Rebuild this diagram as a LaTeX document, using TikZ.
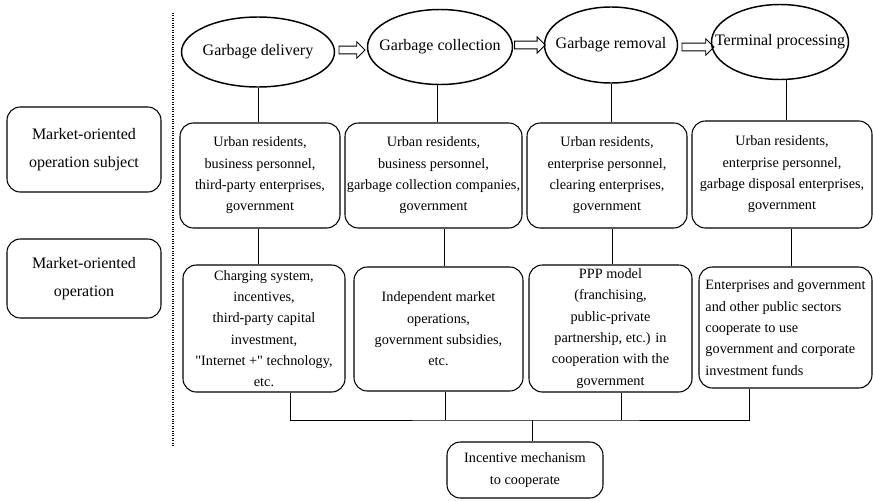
\documentclass[tikz,border=0pt]{standalone}
\usepackage{fontspec}
\setmainfont{Liberation Serif}
\usetikzlibrary{shapes.geometric,shapes.arrows}
\tikzset{
    stage-ellipse/.style = {draw, ellipse, line width=1.1pt, inner sep=0pt, font=\fontsize{12}{14}\selectfont},
    side-box/.style = {draw, rectangle, rounded corners=10pt, line width=0.8pt, align=center, minimum width=115.5pt, font=\fontsize{12}{21}\selectfont},
    info-box/.style = {draw, rectangle, rounded corners=10pt, line width=0.8pt, align=center, inner sep=1pt, font=\fontsize{10.7}{16}\selectfont},
    flow-arrow/.style = {draw, single arrow, line width=0.6pt, inner xsep=0pt, inner ysep=2.6pt, single arrow head extend=3.2pt},
    link/.style = {line width=0.7pt},
}

\begin{document}
\begin{tikzpicture}[x=0.75pt, y=-0.75pt]
\useasboundingbox (0,0) rectangle (873,500);
\draw[densely dotted, line width=0.8pt] (173,13) -- (173,447);

\node[side-box, minimum height=63.75pt] (subject) at (84,149.5) {Market-oriented\\operation subject};
\node[side-box, minimum height=59.25pt] (operation) at (84,278.5) {Market-oriented\\operation};

\node[stage-ellipse, minimum width=114.75pt, minimum height=52.5pt] (delivery) at (258,52) {\makebox[0pt]{Garbage delivery}};
\node[stage-ellipse, minimum width=108.75pt, minimum height=56.25pt] (collection) at (440,47) {\makebox[0pt]{Garbage collection}};
\node[stage-ellipse, minimum width=99.75pt, minimum height=57pt] (removal) at (611,45) {\makebox[0pt]{Garbage removal}};
\node[stage-ellipse, minimum width=102.75pt, minimum height=56.25pt] (processing) at (780,42) {\makebox[0pt]{Terminal processing}};

\node[flow-arrow, minimum height=19.5pt] (arrow-1) at (350,50) {};
\node[flow-arrow, minimum height=23pt] (arrow-2) at (528,45) {};
\node[flow-arrow, minimum height=24pt] (arrow-3) at (696,47) {};

\node[info-box, minimum width=120pt, minimum height=78.75pt] (subject-1) at (260,175.5) {Urban residents,\\business personnel,\\third-party enterprises,\\government};
\node[info-box, minimum width=132.75pt, minimum height=78.75pt] (subject-2) at (433.5,175.5) {Urban residents,\\business personnel,\\garbage collection companies,\\government};
\node[info-box, minimum width=120pt, minimum height=78.75pt] (subject-3) at (607,175.5) {Urban residents,\\enterprise personnel,\\clearing enterprises,\\government};
\node[info-box, minimum width=135pt, minimum height=80.25pt] (subject-4) at (782,174.5) {Urban residents,\\enterprise personnel,\\garbage disposal enterprises,\\government};

\node[info-box, minimum width=121.5pt, minimum height=95.25pt] (mode-1) at (264,328.5) {Charging system,\\incentives,\\third-party capital\\investment,\\\textquotedbl Internet +\textquotedbl{} technology,\\etc.};
\node[info-box, minimum width=126.75pt, minimum height=93pt] (mode-2) at (438.5,329) {Independent market\\operations,\\government subsidies,\\etc.};
\node[info-box, minimum width=122.25pt, minimum height=95.25pt] (mode-3) at (610.5,328.5) {PPP model\\(franchising,\\public-private\\partnership, etc.) in\\cooperation with the\\government};
\node[info-box, align=left, minimum width=129.75pt, minimum height=90.75pt] (mode-4) at (785.5,327.5) {Enterprises and government\\and other public sectors\\cooperate to use\\government and corporate\\investment funds};

\node[info-box, font=\fontsize{10.7}{17}\selectfont, minimum width=117pt, minimum height=42pt] (incentive) at (525,470) {Incentive mechanism\\to cooperate};

\draw[link] (delivery.south) -- (delivery.south |- subject-1.north);
\draw[link] ([xshift=-2pt]collection.south) -- ([xshift=-2pt]collection.south |- subject-2.north);
\draw[link] (removal.south) -- (removal.south |- subject-3.north);
\draw[link] ([xshift=5pt]processing.south) -- ([xshift=5pt]processing.south |- subject-4.north);

\draw[link] ([xshift=-1.5pt]subject-1.south) -- ([xshift=-1.5pt]subject-1.south |- mode-1.north);
\draw[link] ([xshift=8.5pt]subject-2.south) -- ([xshift=8.5pt]subject-2.south |- mode-2.north);
\draw[link] ([xshift=3.75pt]subject-3.south) -- ([xshift=3.75pt]subject-3.south |- mode-3.north);
\draw[link] ([xshift=6.75pt]subject-4.south) -- ([xshift=6.75pt]subject-4.south |- mode-4.north);

\coordinate (bus) at (532,420);
\draw[link] ([xshift=20pt]mode-1.south) |- (bus) -| ([xshift=-27.4pt]mode-4.south);
\draw[link] ([xshift=4.9pt]mode-2.south) -- ([xshift=4.9pt]mode-2.south |- bus);
\draw[link] ([xshift=7.9pt]mode-3.south) -- ([xshift=7.9pt]mode-3.south |- bus);
\draw[link] (bus) -- (bus |- incentive.north);
\end{tikzpicture}
\end{document}
